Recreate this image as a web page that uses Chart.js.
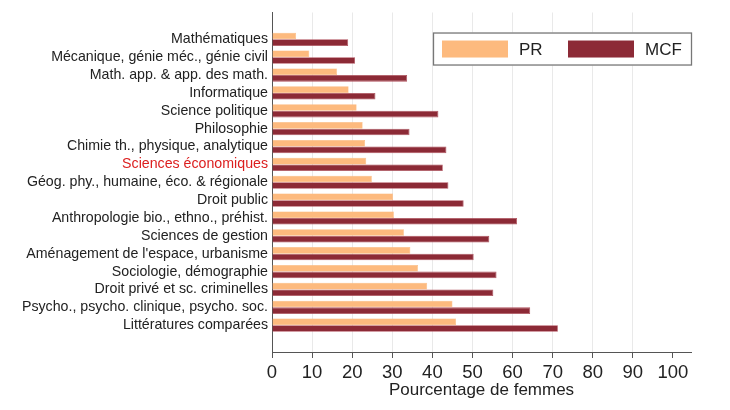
<!DOCTYPE html>
<html>
<head>
<meta charset="utf-8">
<script src="https://cdn.jsdelivr.net/npm/chart.js@4.4.0/dist/chart.umd.min.js"></script>
<style>
  html, body { margin: 0; padding: 0; background: #fff; }
  #wrap { width: 730px; height: 410px; }
</style>
</head>
<body>
<div id="wrap"><canvas id="chart" width="730" height="410"></canvas></div>
<script>
// disciplines, du haut vers le bas
const disciplines = [
  'Mathématiques',
  'Mécanique, génie méc., génie civil',
  'Math. app. & app. des math.',
  'Informatique',
  'Science politique',
  'Philosophie',
  'Chimie th., physique, analytique',
  'Sciences économiques',
  'Géog. phy., humaine, éco. & régionale',
  'Droit public',
  'Anthropologie bio., ethno., préhist.',
  'Sciences de gestion',
  "Aménagement de l'espace, urbanisme",
  'Sociologie, démographie',
  'Droit privé et sc. criminelles',
  'Psycho., psycho. clinique, psycho. soc.',
  'Littératures comparées'
];
const prValues  = [6.0, 9.3, 16.2, 19.1, 21.1, 22.6, 23.2, 23.5, 24.9, 30.2, 30.4, 32.9, 34.5, 36.4, 38.7, 45.0, 45.9];
const mcfValues = [19.0, 20.7, 33.7, 25.8, 41.5, 34.3, 43.5, 42.6, 44.0, 47.8, 61.1, 54.2, 50.3, 56.0, 55.2, 64.4, 71.3];
const xTicks = [0, 10, 20, 30, 40, 50, 60, 70, 80, 90, 100];
const highlight = 'Sciences économiques';

const FONT = "'Liberation Sans', Arial, sans-serif";
const ORANGE = 'rgb(253,186,126)';
const BORDEAUX = 'rgb(140,42,54)';

// une catégorie vide en haut et en bas pour laisser de la marge dans l'axe
const labels = [''].concat(disciplines, ['']);
const pad = arr => [null].concat(arr, [null]);

// légende encadrée à l'intérieur du graphique
const boxLegend = {
  id: 'boxLegend',
  afterDraw(chart) {
    const ctx = chart.ctx;
    const area = chart.chartArea;
    const right = area.right + 1, top = area.top + 20;
    const left = right - 259, h = 33;
    ctx.save();
    ctx.fillStyle = '#fff';
    ctx.fillRect(left, top, right - left, h);
    ctx.strokeStyle = '#777';
    ctx.lineWidth = 1.3;
    ctx.strokeRect(left + 0.5, top + 0.5, right - left - 1, h - 1);
    ctx.font = '17px ' + FONT;
    ctx.textBaseline = 'middle';
    chart.data.datasets.forEach((ds, i) => {
      const x = left + 9 + i * 126;
      ctx.fillStyle = ds.backgroundColor;
      ctx.fillRect(x, top + 8, 66, 17);
      ctx.fillStyle = '#222';
      ctx.fillText(ds.label, x + 77, top + h / 2 + 1);
    });
    ctx.restore();
  }
};

new Chart(document.getElementById('chart').getContext('2d'), {
  type: 'bar',
  data: {
    labels: labels,
    datasets: [
      {
        label: 'PR',
        data: pad(prValues),
        backgroundColor: ORANGE,
        borderColor: 'rgb(250,175,110)',
        borderWidth: 0.5,
        categoryPercentage: 0.74,
        barPercentage: 1.0
      },
      {
        label: 'MCF',
        data: pad(mcfValues),
        backgroundColor: BORDEAUX,
        borderColor: 'rgb(175,80,92)',
        borderWidth: 0.8,
        categoryPercentage: 0.74,
        barPercentage: 1.0
      }
    ]
  },
  options: {
    indexAxis: 'y',
    responsive: false,
    animation: false,
    devicePixelRatio: 1,
    layout: { padding: { top: 12, right: 39, left: 0, bottom: 0 } },
    plugins: {
      legend: { display: false },
      tooltip: { enabled: false }
    },
    scales: {
      x: {
        type: 'linear',
        min: 0,
        max: 104.5,
        afterBuildTicks: scale => {
          scale.ticks = xTicks.map(v => ({ value: v }));
        },
        afterFit: scale => { scale.height = 58; },
        grid: {
          color: c => (c.tick && c.tick.value > 0 && c.tick.value < 100) ? '#e9e9e9' : 'rgba(0,0,0,0)',
          tickColor: '#555',
          tickLength: 6,
          lineWidth: 1
        },
        border: { display: true, color: '#555', width: 1 },
        ticks: {
          color: '#222',
          font: { family: FONT, size: 18.5 },
          padding: 4,
          maxRotation: 0
        },
        title: {
          display: true,
          text: 'Pourcentage de femmes',
          color: '#222',
          font: { family: FONT, size: 17 },
          padding: { top: 0, bottom: 9 }
        }
      },
      y: {
        type: 'category',
        afterFit: scale => { scale.width = 272; },
        grid: { drawOnChartArea: false, drawTicks: false },
        border: { display: true, color: '#555', width: 1 },
        ticks: {
          autoSkip: false,
          padding: 4,
          color: c => c.tick && c.tick.label === highlight ? 'rgb(220,30,30)' : '#222',
          font: { family: FONT, size: 14.2 }
        }
      }
    }
  },
  plugins: [boxLegend]
});
</script>
</body>
</html>
